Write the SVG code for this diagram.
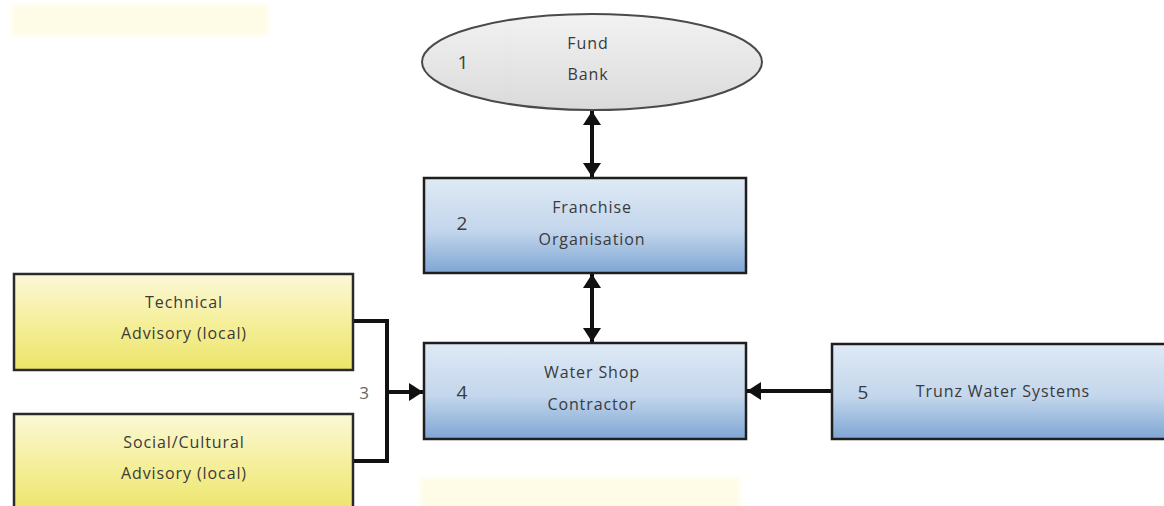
<svg xmlns="http://www.w3.org/2000/svg" width="1164" height="506" viewBox="0 0 1164 506">
  <style>
    .lbl { font-family: "Open Sans", "Noto Sans", sans-serif; font-size: 16px; letter-spacing: 0.9px; fill: #3a3a3a; text-anchor: middle; }
    .num { font-family: "Open Sans", "Noto Sans", sans-serif; font-size: 19px; fill: #3c3c3c; text-anchor: middle; }
    .blue { fill: url(#gBlue); stroke: #1e1e1e; stroke-width: 2.5; }
    .yellow { fill: url(#gYellow); stroke: #2a2a2a; stroke-width: 2.5; }
    .wire { fill: none; stroke: #111; stroke-width: 4; }
    .ghost { fill: #fefbe6; }
  </style>
  <defs>
    <linearGradient id="gBlue" x1="0" y1="0" x2="0" y2="1">
      <stop offset="0" stop-color="#dfeaf5"/>
      <stop offset="0.55" stop-color="#c3d6ec"/>
      <stop offset="1" stop-color="#7ea6d4"/>
    </linearGradient>
    <linearGradient id="gYellow" x1="0" y1="0" x2="0" y2="1">
      <stop offset="0" stop-color="#fbf8d8"/>
      <stop offset="0.5" stop-color="#f5ef9c"/>
      <stop offset="1" stop-color="#ece468"/>
    </linearGradient>
    <linearGradient id="gGrey" x1="0" y1="0" x2="0" y2="1">
      <stop offset="0" stop-color="#f2f2f2"/>
      <stop offset="1" stop-color="#dadada"/>
    </linearGradient>
    <filter id="soft" x="-10%" y="-50%" width="120%" height="200%">
      <feGaussianBlur stdDeviation="3"/>
    </filter>
    <marker id="head" viewBox="0 0 14 18" refX="14" refY="9" markerWidth="14" markerHeight="18" markerUnits="userSpaceOnUse" orient="auto-start-reverse">
      <path d="M0,0 L14,9 L0,18 z" fill="#111"/>
    </marker>
  </defs>

  <rect width="1164" height="506" fill="#ffffff"/>

  <!-- faint background bands -->
  <rect class="ghost" x="12" y="5" width="256" height="30" filter="url(#soft)"/>
  <rect class="ghost" x="420" y="478" width="320" height="30" filter="url(#soft)"/>

  <!-- connectors -->
  <g id="connectors">
    <line class="wire" x1="592" y1="111" x2="592" y2="177" marker-start="url(#head)" marker-end="url(#head)"/>
    <line class="wire" x1="592" y1="274" x2="592" y2="342" marker-start="url(#head)" marker-end="url(#head)"/>
    <line class="wire" x1="832" y1="391" x2="747" y2="391" marker-end="url(#head)"/>
    <polyline class="wire" points="353,321 387,321 387,461 353,461"/>
    <line class="wire" x1="385" y1="392" x2="423" y2="392" marker-end="url(#head)"/>
  </g>

  <g id="node-1">
    <ellipse cx="592" cy="62" rx="170" ry="48" fill="url(#gGrey)" stroke="#4a4a4a" stroke-width="2"/>
    <text class="num" x="463" y="69">1</text>
    <text class="lbl" x="588" y="49">Fund</text>
    <text class="lbl" x="588" y="80">Bank</text>
  </g>

  <g id="node-2">
    <rect class="blue" x="424" y="178" width="322" height="95"/>
    <text class="num" x="462" y="230">2</text>
    <text class="lbl" x="592" y="213">Franchise</text>
    <text class="lbl" x="592" y="245">Organisation</text>
  </g>

  <g id="node-4">
    <rect class="blue" x="424" y="343" width="322" height="96"/>
    <text class="num" x="462" y="399">4</text>
    <text class="lbl" x="592" y="378">Water Shop</text>
    <text class="lbl" x="592" y="410">Contractor</text>
  </g>

  <g id="node-5">
    <rect class="blue" x="832" y="344" width="340" height="95"/>
    <text class="num" x="863" y="399">5</text>
    <text class="lbl" x="1003" y="397">Trunz Water Systems</text>
  </g>

  <g id="node-tech">
    <rect class="yellow" x="14" y="274" width="339" height="96"/>
    <text class="lbl" x="184" y="308">Technical</text>
    <text class="lbl" x="184" y="339">Advisory (local)</text>
  </g>

  <g id="node-social">
    <rect class="yellow" x="14" y="414" width="339" height="100"/>
    <text class="lbl" x="184" y="448">Social/Cultural</text>
    <text class="lbl" x="184" y="479">Advisory (local)</text>
  </g>

  <g id="label-3">
    <text class="num" x="364" y="399" style="font-size:17px;fill:#666">3</text>
  </g>
</svg>
